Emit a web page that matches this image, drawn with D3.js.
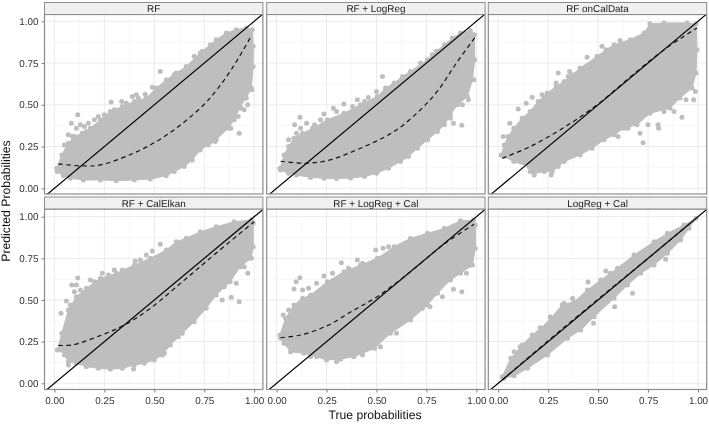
<!DOCTYPE html>
<html><head><meta charset="utf-8">
<script src="https://cdn.jsdelivr.net/npm/d3@7/dist/d3.min.js"></script>
<style>html,body{margin:0;padding:0;background:#fff}svg{display:block;filter:blur(0.3px)}text{font-family:"Liberation Sans",Arial,sans-serif;text-rendering:geometricPrecision}</style>
</head><body><svg id="c" width="709" height="424"></svg>
<script>
const panelNames = ["RF","RF + LogReg","RF onCalData","RF + CalElkan","RF + LogReg + Cal","LogReg + Cal"];
const tickValues = [0,0.25,0.5,0.75,1];
const minorValues = [0.125,0.375,0.625,0.875];
const tickLabels = ["0.00","0.25","0.50","0.75","1.00"];
const xTitle = "True probabilities";
const yTitle = "Predicted Probabilities";

const cloudRF = [[.012,.12],[.037,.2],[.07,.27],[.1,.31],[.14,.33],[.18,.36],[.23,.41],[.28,.46],[.34,.49],[.40,.52],[.46,.54],[.51,.6],[.56,.65],[.61,.69],[.66,.73],[.73,.81],[.78,.86],[.81,.89],[.86,.93],[.91,.95],[.96,.96],[.99,.95],[.995,.85],[.995,.73],[.985,.6],[.96,.54],[.93,.49],[.9,.41],[.87,.36],[.81,.29],[.77,.26],[.73,.23],[.69,.17],[.65,.13],[.6,.1],[.56,.075],[.48,.055],[.4,.05],[.31,.045],[.23,.05],[.145,.05],[.08,.06],[.045,.075],[.015,.1]];
const outRF = [[.53,.70],[.117,.44],[.085,.39],[.07,.32],[.41,.56],[.284,.517],[.337,.52],[.454,.563],[.49,.605],[.925,.33],[.883,.36],[.967,.5],[.988,.59],[.933,.48],[.805,.28],[.2,.41],[.25,.44],[.39,.55],[.13,.38],[.05,.26],[.09,.31],[.11,.36],[.15,.37],[.17,.39],[.22,.43],[.3,.47],[.36,.51],[.42,.54],[.6,.68],[.7,.79],[.74,.82],[.77,.83],[.85,.4],[.92,.43],[.95,.47],[.78,.28],[.1,.28],[.16,.34]];
const fitRF = [[.02,.146],[.137,.134],[.229,.14],[.396,.21],[.563,.32],[.73,.48],[.813,.59],[.896,.73],[.983,.908]];

const cloudLR = [[.017,.12],[.037,.2],[.06,.25],[.087,.3],[.13,.33],[.18,.36],[.254,.41],[.337,.45],[.42,.5],[.504,.55],[.545,.6],[.588,.63],[.63,.67],[.67,.7],[.755,.77],[.8,.82],[.84,.86],[.88,.9],[.92,.93],[.97,.945],[.99,.92],[.992,.77],[.98,.65],[.955,.55],[.905,.5],[.87,.44],[.84,.38],[.805,.34],[.755,.29],[.705,.24],[.66,.19],[.62,.16],[.56,.12],[.5,.09],[.44,.07],[.37,.062],[.3,.058],[.237,.06],[.17,.065],[.1,.08],[.06,.09],[.02,.11]];
const outLR = [[.117,.425],[.53,.67],[.927,.377],[.885,.39],[.987,.65],[.284,.48],[.237,.445],[.337,.505],[.404,.53],[.459,.543],[.5,.58],[.06,.29],[.15,.39],[.09,.38],[.1,.33],[.12,.36],[.19,.38],[.22,.41],[.3,.46],[.38,.49],[.44,.52],[.72,.75],[.78,.8],[.87,.42],[.93,.5],[.96,.53]];
const fitLR = [[.02,.162],[.137,.15],[.254,.166],[.42,.24],[.588,.34],[.72,.47],[.81,.59],[.9,.75],[.997,.91]];

const cloudOC = [[.015,.2],[.03,.26],[.05,.31],[.078,.36],[.12,.42],[.16,.46],[.2,.52],[.245,.57],[.29,.61],[.33,.64],[.37,.68],[.41,.72],[.495,.79],[.54,.83],[.58,.86],[.66,.89],[.73,.93],[.76,.985],[.83,.99],[.945,.99],[.99,.985],[.995,.83],[.99,.69],[.97,.6],[.91,.54],[.86,.48],[.76,.45],[.695,.38],[.63,.36],[.58,.32],[.53,.29],[.47,.24],[.41,.2],[.33,.16],[.27,.1],[.23,.1],[.18,.09],[.153,.13],[.078,.16],[.03,.19]];
const outOC = [[.17,.545],[.1,.475],[.058,.39],[.025,.31],[.3,.69],[.357,.70],[.29,.63],[.92,.425],[.725,.273],[.803,.36],[.978,.53],[.987,.58],[.445,.785],[.61,.885],[.18,.08],[.265,.08],[.14,.51],[.8,.38],[.71,.33],[.75,.38],[.22,.56],[.35,.67],[.52,.85],[.65,.36],[.6,.31],[.83,.46],[.88,.46],[.94,.53],[.16,.1],[.21,.11],[.3,.13]];
const fitOC = [[.02,.18],[.16,.25],[.33,.365],[.495,.5],[.66,.665],[.83,.83],[.995,.96]];

const cloudCE = [[.015,.2],[.037,.3],[.07,.44],[.11,.52],[.16,.57],[.23,.63],[.31,.66],[.40,.71],[.48,.75],[.56,.8],[.61,.85],[.66,.87],[.73,.91],[.81,.94],[.90,.97],[.985,.98],[.995,.96],[.995,.82],[.985,.75],[.93,.7],[.88,.61],[.81,.53],[.76,.45],[.70,.37],[.64,.3],[.58,.23],[.54,.17],[.50,.14],[.45,.12],[.40,.11],[.34,.09],[.28,.085],[.22,.09],[.16,.1],[.11,.12],[.07,.13],[.05,.17],[.03,.2]];
const outCE = [[.117,.632],[.18,.62],[.087,.59],[.06,.494],[.033,.42],[.53,.834],[.49,.794],[.46,.77],[.404,.734],[.925,.49],[.885,.516],[.968,.66],[.396,.086],[.07,.11],[.24,.66],[.3,.68],[.85,.58],[.1,.55],[.11,.59],[.13,.56],[.08,.47],[.2,.61],[.27,.65],[.34,.68],[.43,.74],[.91,.6],[.95,.7],[.84,.5],[.62,.28],[.55,.18],[.05,.24]];
const fitCE = [[.02,.228],[.087,.23],[.229,.286],[.35,.35],[.48,.45],[.646,.615],[.813,.785],[1,.97]];

const cloudLC = [[.017,.29],[.045,.39],[.087,.47],[.13,.51],[.17,.53],[.254,.61],[.337,.67],[.42,.71],[.504,.75],[.588,.82],[.67,.87],[.755,.9],[.84,.93],[.92,.975],[.985,.98],[.995,.95],[.995,.81],[.98,.71],[.92,.66],[.87,.62],[.805,.54],[.755,.47],[.67,.38],[.57,.3],[.49,.21],[.387,.16],[.32,.145],[.25,.14],[.2,.16],[.137,.18],[.07,.19],[.037,.24],[.02,.27]];
const outLC = [[.117,.634],[.098,.61],[.087,.566],[.237,.644],[.324,.724],[.404,.74],[.496,.80],[.533,.81],[.927,.55],[.885,.564],[.963,.706],[.768,.46],[.033,.41],[.2,.6],[.43,.72],[.13,.56],[.16,.57],[.06,.44],[.28,.66],[.36,.69],[.56,.82],[.83,.52],[.73,.45],[.6,.3],[.52,.22],[.43,.17],[.3,.13],[.17,.16],[.95,.66]];
const fitLC = [[.02,.274],[.12,.29],[.254,.346],[.387,.44],[.504,.52],[.67,.67],[.838,.835],[.988,.954]];

const cloudLG = [[.02,.04],[.063,.15],[.12,.23],[.17,.29],[.213,.33],[.263,.39],[.32,.47],[.38,.49],[.447,.56],[.513,.62],[.597,.69],[.68,.77],[.78,.85],[.847,.9],[.93,.95],[.99,.99],[.955,.93],[.913,.86],[.847,.78],[.78,.71],[.713,.66],[.647,.59],[.58,.51],[.48,.40],[.413,.32],[.347,.27],[.247,.17],[.147,.09],[.08,.045],[.03,.03]];
const outLG = [[.45,.608],[.538,.674],[.21,.334],[.372,.51],[.583,.46],[.672,.54],[.838,.744],[.477,.36],[.08,.19],[.11,.22],[.26,.4],[.33,.48],[.56,.66],[.62,.7]];
const fitLG = [[.02,.02],[.25,.255],[.5,.505],[.75,.75],[.98,.98]];

const clouds = [cloudRF,cloudLR,cloudOC,cloudCE,cloudLC,cloudLG];
const outliers = [outRF,outLR,outOC,outCE,outLC,outLG];
const fits = [fitRF,fitLR,fitOC,fitCE,fitLC,fitLG];

const svg = d3.select("#c");
const colLeft = [44.5,266.7,488.3], panelW = 218.4;
const rowTop = [14.5,209], rowBottom = [194,389.5], rowY1 = [21.3,216.7], rowY0 = [188.3,383.3];
const border = "#8c8c8c", pointColor = "#bebebe";

panelNames.forEach((name,i)=>{
  const c = i%3, r = Math.floor(i/3), L = colLeft[c], R = L+panelW;
  const x = d3.scaleLinear().domain([0,1]).range([L+9.9,L+209.7]);
  const y = d3.scaleLinear().domain([0,1]).range([rowY0[r],rowY1[r]]);
  const T = rowTop[r], B = rowBottom[r];
  const g = svg.append("g");
  const clip = "clip"+i;
  svg.append("clipPath").attr("id",clip).append("rect").attr("x",L).attr("y",T).attr("width",panelW).attr("height",B-T);
  g.append("rect").attr("x",L).attr("y",T).attr("width",panelW).attr("height",B-T).attr("fill","#fff");
  g.selectAll(".minx").data(minorValues).enter().append("line").attr("x1",x).attr("x2",x).attr("y1",T).attr("y2",B).attr("stroke","#f5f5f5").attr("stroke-width",.8);
  g.selectAll(".miny").data(minorValues).enter().append("line").attr("y1",y).attr("y2",y).attr("x1",L).attr("x2",R).attr("stroke","#f5f5f5").attr("stroke-width",.8);
  g.selectAll(".majx").data(tickValues).enter().append("line").attr("x1",x).attr("x2",x).attr("y1",T).attr("y2",B).attr("stroke","#ebebeb").attr("stroke-width",1);
  g.selectAll(".majy").data(tickValues).enter().append("line").attr("y1",y).attr("y2",y).attr("x1",L).attr("x2",R).attr("stroke","#ebebeb").attr("stroke-width",1);
  const m = g.append("g").attr("clip-path",`url(#${clip})`);
  m.append("path").datum(clouds[i]).attr("d",d3.line().x(d=>x(d[0])).y(d=>y(d[1])).curve(d3.curveLinearClosed)).attr("fill",pointColor).attr("stroke",pointColor).attr("stroke-width",1);
  m.selectAll("circle.e").data(clouds[i].concat(outliers[i])).enter().append("circle").attr("cx",d=>x(d[0])).attr("cy",d=>y(d[1])).attr("r",2.5).attr("fill",pointColor);
  const ext = [-0.1,1.1];
  m.append("line").attr("x1",x(ext[0])).attr("y1",y(ext[0])).attr("x2",x(ext[1])).attr("y2",y(ext[1])).attr("stroke","#000").attr("stroke-width",1.2);
  m.append("path").datum(fits[i]).attr("d",d3.line().x(d=>x(d[0])).y(d=>y(d[1])).curve(d3.curveCatmullRom.alpha(0.5))).attr("fill","none").attr("stroke","#111").attr("stroke-width",1.2).attr("stroke-dasharray","4.5,3.5");
  // border
  g.append("rect").attr("x",L).attr("y",T).attr("width",panelW).attr("height",B-T).attr("fill","none").attr("stroke",border).attr("stroke-width",1.2);
  // strip
  const sT = T-12;
  g.append("rect").attr("x",L).attr("y",sT).attr("width",panelW).attr("height",12).attr("fill","#f0f0f0").attr("stroke",border).attr("stroke-width",1);
  g.append("text").attr("x",(L+R)/2).attr("y",sT+9.6).attr("text-anchor","middle").attr("font-size",9.9).attr("fill","#1a1a1a").text(name);
  // axes
  if (r===1){
    const ax = g.append("g").attr("transform",`translate(0,${B})`).call(d3.axisBottom(x).tickValues(tickValues).tickFormat((d,j)=>tickLabels[j]).tickSize(3).tickPadding(4.5));
    ax.select(".domain").remove();
    ax.selectAll("line").attr("stroke","#7f7f7f");
    ax.selectAll("text").attr("font-size",9.9).attr("fill","#333").attr("font-family","Liberation Sans");
  }
  if (c===0){
    const ay = g.append("g").attr("transform",`translate(${L},0)`).call(d3.axisLeft(y).tickValues(tickValues).tickFormat((d,j)=>tickLabels[j]).tickSize(3).tickPadding(3));
    ay.select(".domain").remove();
    ay.selectAll("line").attr("stroke","#7f7f7f");
    ay.selectAll("text").attr("font-size",9.9).attr("fill","#333").attr("font-family","Liberation Sans");
  }
});
svg.append("text").attr("x",375).attr("y",419).attr("text-anchor","middle").attr("font-size",12.2).attr("fill","#111").text(xTitle);
svg.append("text").attr("transform","translate(10,201) rotate(-90)").attr("text-anchor","middle").attr("font-size",12.2).attr("fill","#111").text(yTitle);
</script></body></html>
